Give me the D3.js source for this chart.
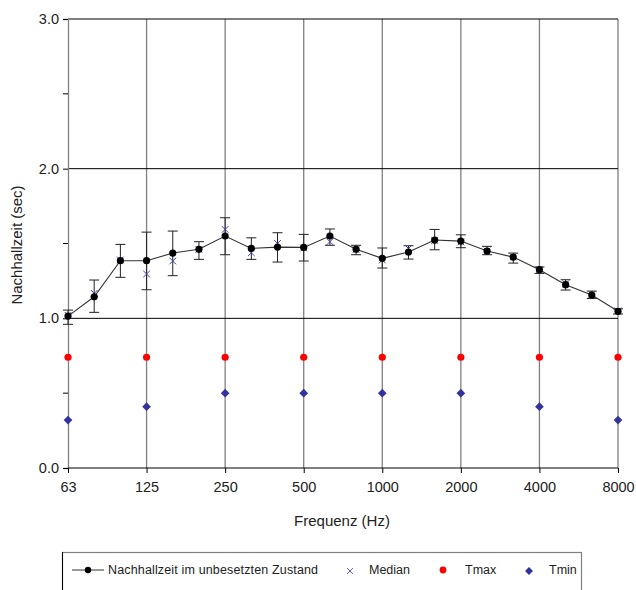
<!DOCTYPE html>
<html>
<head>
<meta charset="utf-8">
<script src="https://cdn.jsdelivr.net/npm/d3@7"></script>
<style>
  body { margin: 0; background: #fff; }
  svg text { font-family: "Liberation Sans", Arial, sans-serif; fill: #222; }
</style>
</head>
<body>
<div id="chart"></div>
<script>
// third-octave bands
const bands = ["63","80","100","125","160","200","250","315","400","500","630","800","1000","1250","1600","2000","2500","3150","4000","5000","6300","8000"];
const tickBands = ["63","125","250","500","1000","2000","4000","8000"];
// Nachhallzeit im unbesetzten Zustand (mean), error bar limits, median
const meanT = [1.015,1.144,1.385,1.385,1.436,1.461,1.55,1.467,1.476,1.474,1.55,1.461,1.401,1.443,1.523,1.516,1.45,1.409,1.325,1.225,1.156,1.047];
const errHi = [1.055,1.256,1.494,1.576,1.583,1.512,1.672,1.538,1.572,1.561,1.597,1.488,1.47,1.485,1.594,1.558,1.481,1.436,1.343,1.258,1.182,1.064];
const errLo = [0.96,1.04,1.274,1.191,1.285,1.394,1.425,1.394,1.376,1.383,1.488,1.425,1.336,1.396,1.458,1.472,1.425,1.369,1.30,1.189,1.133,1.029];
const medianT = [1.02,1.167,1.39,1.296,1.383,1.46,1.594,1.438,1.501,1.47,1.512,1.46,1.39,1.467,1.52,1.51,1.45,1.41,1.325,1.23,1.16,1.05];
// limits at octave bands
const limitBands = ["63","125","250","500","1000","2000","4000","8000"];
const tMax = [0.74,0.74,0.74,0.74,0.74,0.74,0.74,0.74];
const tMin = [0.32,0.41,0.50,0.50,0.50,0.50,0.41,0.32];
const yTicks = [0, 1, 2, 3];
const yMinor = [0.5, 1.5, 2.5];

const width = 636, height = 590;
const svg = d3.select("#chart").append("svg").attr("width", width).attr("height", height);

const x = d3.scalePoint().domain(bands).range([68, 618]);
const y = d3.scaleLinear().domain([0, 3]).range([468, 19]);

// vertical grid lines at octave bands
svg.append("g").selectAll("line").data(tickBands.slice(1)).join("line")
  .attr("x1", d => x(d)).attr("x2", d => x(d))
  .attr("y1", y(3)).attr("y2", y(0))
  .attr("stroke", "#808080").attr("stroke-width", 1.3);

// horizontal grid lines
svg.append("g").selectAll("line").data(yTicks.slice(1)).join("line")
  .attr("x1", x("63")).attr("x2", x("8000"))
  .attr("y1", d => y(d)).attr("y2", d => y(d))
  .attr("stroke", "#000").attr("stroke-width", 1);

// y axis
const yAxis = svg.append("g").attr("transform", "translate(" + x("63") + ",0)")
  .call(d3.axisLeft(y).tickValues(yTicks).tickFormat(d3.format(".1f")).tickSize(5).tickPadding(4));
yAxis.select(".domain").attr("stroke", "#808080").attr("stroke-width", 1.3);
yAxis.selectAll(".tick line").attr("stroke", "#000");
yAxis.selectAll(".tick text").style("font-size", "14.5px").attr("fill", "#1f2b3f");
yAxis.append("g").selectAll("line").data(yMinor).join("line")
  .attr("x1", -5).attr("x2", 0).attr("y1", d => y(d)).attr("y2", d => y(d)).attr("stroke", "#000");

// x axis
const xAxis = svg.append("g").attr("transform", "translate(0," + y(0) + ")")
  .call(d3.axisBottom(x).tickValues(tickBands).tickSize(5).tickPadding(9));
xAxis.select(".domain").attr("stroke", "#000").attr("d", "M" + x("63") + ",0H" + x("8000"));
xAxis.selectAll(".tick line").attr("stroke", "#000");
xAxis.selectAll(".tick text").style("font-size", "14.5px").attr("fill", "#1f2b3f");

// axis titles
svg.append("text").attr("x", 342).attr("y", 526).attr("text-anchor", "middle")
  .style("font-size", "15px").text("Frequenz (Hz)");
svg.append("text").attr("transform", "translate(22,245) rotate(-90)").attr("text-anchor", "middle")
  .style("font-size", "15px").text("Nachhallzeit (sec)");

// error bars
const eb = svg.append("g");
bands.forEach((b, i) => {
  const cx = x(b);
  eb.append("line").attr("x1", cx).attr("x2", cx).attr("y1", y(errHi[i])).attr("y2", y(errLo[i])).attr("stroke", "#222");
  eb.append("line").attr("x1", cx - 5).attr("x2", cx + 5).attr("y1", y(errHi[i])).attr("y2", y(errHi[i])).attr("stroke", "#222");
  eb.append("line").attr("x1", cx - 5).attr("x2", cx + 5).attr("y1", y(errLo[i])).attr("y2", y(errLo[i])).attr("stroke", "#222");
});

// mean line
const line = d3.line().x((d, i) => x(bands[i])).y(d => y(d));
svg.append("path").datum(meanT).attr("d", line).attr("fill", "none").attr("stroke", "#333").attr("stroke-width", 1.1);

// median crosses
const cross = d3.symbol().type(d3.symbolX).size(30);
svg.append("g").selectAll("path").data(medianT).join("path")
  .attr("d", cross)
  .attr("transform", (d, i) => "translate(" + x(bands[i]) + "," + y(d) + ")")
  .attr("fill", "none").attr("stroke", "#4040b0").attr("stroke-width", 1);

// mean dots
svg.append("g").selectAll("circle").data(meanT).join("circle")
  .attr("cx", (d, i) => x(bands[i])).attr("cy", d => y(d)).attr("r", 3.6).attr("fill", "#000");

// Tmax
svg.append("g").selectAll("circle").data(tMax).join("circle")
  .attr("cx", (d, i) => x(limitBands[i])).attr("cy", d => y(d)).attr("r", 3.6).attr("fill", "#ff0000");

// Tmin
const diamond = d3.symbol().type(d3.symbolDiamond2).size(48);
svg.append("g").selectAll("path").data(tMin).join("path")
  .attr("d", diamond)
  .attr("transform", (d, i) => "translate(" + x(limitBands[i]) + "," + y(d) + ")")
  .attr("fill", "#3333a0");

// legend
const lg = svg.append("g");
lg.append("rect").attr("x", 62.5).attr("y", 552.5).attr("width", 519).attr("height", 50)
  .attr("fill", "#fff").attr("stroke", "#808080").attr("stroke-width", 1.2);
lg.append("line").attr("x1", 62.5).attr("x2", 62.5).attr("y1", 552).attr("y2", 590).attr("stroke", "#000");
const ly = 570;
lg.append("line").attr("x1", 72).attr("x2", 104).attr("y1", ly).attr("y2", ly).attr("stroke", "#333");
lg.append("circle").attr("cx", 88).attr("cy", ly).attr("r", 3.2).attr("fill", "#000");
lg.append("text").attr("x", 108).attr("y", ly + 4).style("font-size", "12.5px").style("letter-spacing", "0.15px")
  .text("Nachhallzeit im unbesetzten Zustand");
lg.append("path").attr("d", d3.symbol().type(d3.symbolX).size(24))
  .attr("transform", "translate(350," + (ly + 1) + ")").attr("fill", "none").attr("stroke", "#6060b8");
lg.append("text").attr("x", 369).attr("y", ly + 4).style("font-size", "12.5px").text("Median");
lg.append("circle").attr("cx", 443).attr("cy", ly).attr("r", 3.4).attr("fill", "#ff0000");
lg.append("text").attr("x", 465).attr("y", ly + 4).style("font-size", "12.5px").text("Tmax");
lg.append("path").attr("d", d3.symbol().type(d3.symbolDiamond2).size(40))
  .attr("transform", "translate(529," + (ly + 1) + ")").attr("fill", "#3333a0");
lg.append("text").attr("x", 549).attr("y", ly + 4).style("font-size", "12.5px").text("Tmin");
</script>
</body>
</html>
